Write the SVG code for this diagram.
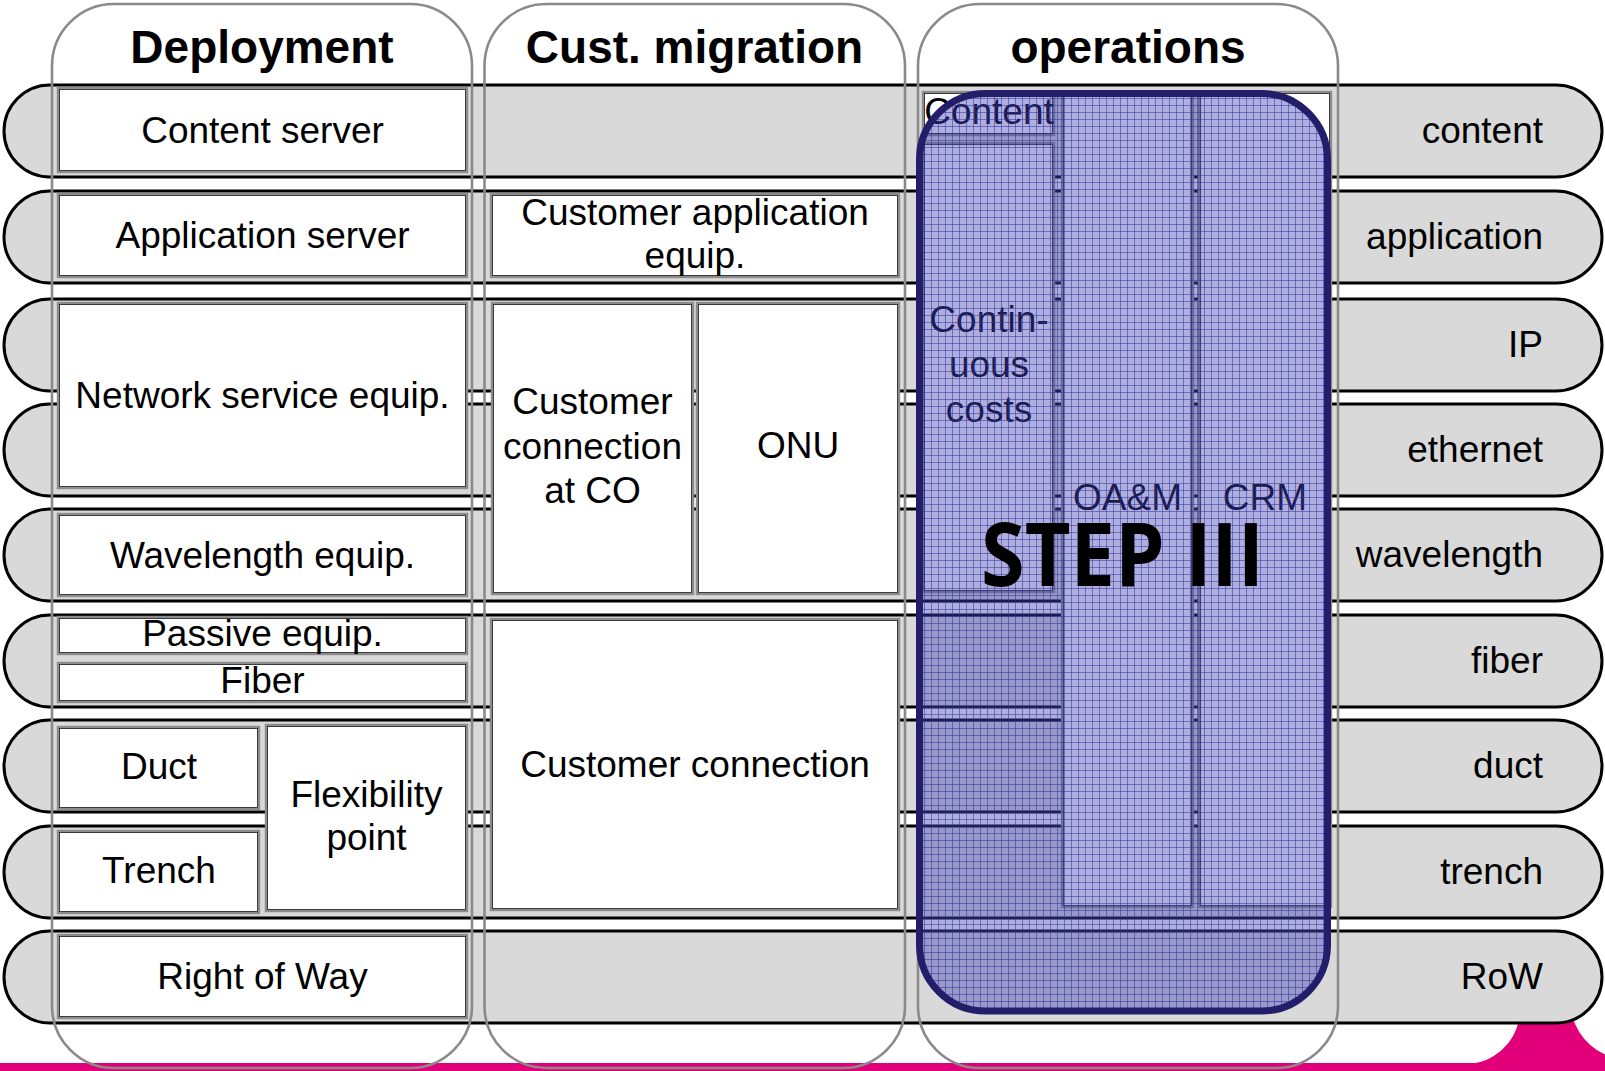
<svg xmlns="http://www.w3.org/2000/svg" width="1605" height="1071" viewBox="0 0 1605 1071">
<style>
.band{fill:#d9d9d9;stroke:#000;stroke-width:3}
.col{fill:none;stroke:#8a8a8a;stroke-width:2.6}
.bo{fill:#fff;stroke:#8c8c8c;stroke-width:2.4}
.bi{fill:none;stroke:#2a2a2a;stroke-width:0.9}
.t{font-family:"Liberation Sans",Arial,sans-serif;font-size:37px;fill:#000;text-anchor:middle}
.lbl{font-family:"Liberation Sans",Arial,sans-serif;font-size:37px;fill:#000;text-anchor:end}
.h{font-family:"Liberation Sans",Arial,sans-serif;font-size:46px;font-weight:bold;fill:#000;text-anchor:middle}
.step{font-family:"Open Sans","Liberation Sans",sans-serif;font-size:88px;font-weight:bold;fill:#000}
</style>
<defs>
<pattern id="grid" patternUnits="userSpaceOnUse" width="7" height="7">
<rect width="7" height="7" fill="#4040b2" fill-opacity="0.42"/>
<path d="M0,0.5H7M0.5,0V7" stroke="#2c2c9c" stroke-opacity="0.5" stroke-width="1" fill="none"/>
</pattern>
</defs>
<rect width="1605" height="1071" fill="#fff"/>
<path id="accent" d="M0,1063 L1475.4,1063 A55,55 0 0 0 1520,1008 L1520,1000 L1570,1000 A60,60 0 0 0 1605,1054.5 L1605,1071 L0,1071 Z" fill="#e2007a"/>
<g id="bands">
<g id="band-content"><rect class="band" x="4" y="85" width="1598" height="92" rx="46"/><text class="lbl" x="1543" y="143">content</text></g>
<g id="band-application"><rect class="band" x="4" y="191" width="1598" height="92" rx="46"/><text class="lbl" x="1543" y="249">application</text></g>
<g id="band-ip"><rect class="band" x="4" y="299" width="1598" height="92" rx="46"/><text class="lbl" x="1543" y="357">IP</text></g>
<g id="band-ethernet"><rect class="band" x="4" y="404" width="1598" height="92" rx="46"/><text class="lbl" x="1543" y="462">ethernet</text></g>
<g id="band-wavelength"><rect class="band" x="4" y="509" width="1598" height="92" rx="46"/><text class="lbl" x="1543" y="567">wavelength</text></g>
<g id="band-fiber"><rect class="band" x="4" y="615" width="1598" height="92" rx="46"/><text class="lbl" x="1543" y="673">fiber</text></g>
<g id="band-duct"><rect class="band" x="4" y="720" width="1598" height="92" rx="46"/><text class="lbl" x="1543" y="778">duct</text></g>
<g id="band-trench"><rect class="band" x="4" y="826" width="1598" height="92" rx="46"/><text class="lbl" x="1543" y="884">trench</text></g>
<g id="band-row"><rect class="band" x="4" y="931" width="1598" height="92" rx="46"/><text class="lbl" x="1543" y="989">RoW</text></g>
</g>
<g id="deployment-boxes">
<g id="content-server"><rect class="bo" x="58" y="88" width="409" height="84"/><rect class="bi" x="59.5" y="89.5" width="406" height="81"/><text class="t" x="262.5" y="143">Content server</text></g>
<g id="application-server"><rect class="bo" x="58" y="194" width="409" height="83"/><rect class="bi" x="59.5" y="195.5" width="406" height="80"/><text class="t" x="262.5" y="248">Application server</text></g>
<g id="network-service-equip"><rect class="bo" x="58" y="303" width="409" height="185"/><rect class="bi" x="59.5" y="304.5" width="406" height="182"/><text class="t" x="262.5" y="408">Network service equip.</text></g>
<g id="wavelength-equip"><rect class="bo" x="58" y="514" width="409" height="82"/><rect class="bi" x="59.5" y="515.5" width="406" height="79"/><text class="t" x="262.5" y="568">Wavelength equip.</text></g>
<g id="passive-equip"><rect class="bo" x="58" y="617" width="409" height="37"/><rect class="bi" x="59.5" y="618.5" width="406" height="34"/><text class="t" x="262.5" y="646">Passive equip.</text></g>
<g id="fiber"><rect class="bo" x="58" y="663" width="409" height="39"/><rect class="bi" x="59.5" y="664.5" width="406" height="36"/><text class="t" x="262.5" y="693">Fiber</text></g>
<g id="duct"><rect class="bo" x="58" y="727" width="201" height="82"/><rect class="bi" x="59.5" y="728.5" width="198" height="79"/><text class="t" x="159" y="779">Duct</text></g>
<g id="trench"><rect class="bo" x="58" y="831" width="201" height="82"/><rect class="bi" x="59.5" y="832.5" width="198" height="79"/><text class="t" x="159" y="883">Trench</text></g>
<g id="flexibility-point"><rect class="bo" x="266" y="725" width="201" height="186"/><rect class="bi" x="267.5" y="726.5" width="198" height="183"/><text class="t" x="366.5" y="807">Flexibility</text><text class="t" x="366.5" y="850">point</text></g>
<g id="right-of-way"><rect class="bo" x="58" y="935" width="409" height="83"/><rect class="bi" x="59.5" y="936.5" width="406" height="80"/><text class="t" x="262.5" y="989">Right of Way</text></g>
</g>
<g id="migration-boxes">
<g id="customer-application-equip"><rect class="bo" x="491" y="194" width="408" height="83"/><rect class="bi" x="492.5" y="195.5" width="405" height="80"/><text class="t" x="695" y="225">Customer application</text><text class="t" x="695" y="268">equip.</text></g>
<g id="customer-connection-co"><rect class="bo" x="492" y="303" width="201" height="291"/><rect class="bi" x="493.5" y="304.5" width="198" height="288"/><text class="t" x="592.5" y="414">Customer</text><text class="t" x="592.5" y="459">connection</text><text class="t" x="592.5" y="503">at CO</text></g>
<g id="onu"><rect class="bo" x="697" y="303" width="202" height="291"/><rect class="bi" x="698.5" y="304.5" width="199" height="288"/><text class="t" x="798" y="458">ONU</text></g>
<g id="customer-connection"><rect class="bo" x="491" y="619" width="408" height="291"/><rect class="bi" x="492.5" y="620.5" width="405" height="288"/><text class="t" x="695" y="777">Customer connection</text></g>
</g>
<g id="operations-boxes">
<g id="op-content"><rect class="bo" x="923" y="92" width="131" height="43"/><rect class="bi" x="924.5" y="93.5" width="128" height="40"/><text class="t" x="989" y="124">Content</text></g>
<g id="continuous-costs"><rect class="bo" x="923" y="143" width="131" height="449"/><rect class="bi" x="924.5" y="144.5" width="128" height="446"/><text class="t" x="989" y="332">Contin-</text><text class="t" x="989" y="377">uous</text><text class="t" x="989" y="422">costs</text></g>
<g id="oam"><rect class="bo" x="1062" y="92" width="131" height="815"/><rect class="bi" x="1063.5" y="93.5" width="128" height="812"/><text class="t" x="1127.5" y="510">OA&amp;M</text></g>
<g id="crm"><rect class="bo" x="1199" y="92" width="132" height="815"/><rect class="bi" x="1200.5" y="93.5" width="129" height="812"/><text class="t" x="1265" y="510">CRM</text></g>
</g>
<g id="columns">
<g id="col-deployment"><rect class="col" x="52" y="4" width="420" height="1064" rx="62"/><text class="h" x="262" y="63">Deployment</text></g>
<g id="col-migration"><rect class="col" x="484.5" y="4" width="420.5" height="1064" rx="62"/><text class="h" x="694.5" y="63">Cust. migration</text></g>
<g id="col-operations"><rect class="col" x="918" y="4" width="420" height="1064" rx="62"/><text class="h" x="1128" y="63">operations</text></g>
</g>
<g id="step-iii">
<rect x="919.5" y="93.5" width="408" height="917.5" rx="66" fill="url(#grid)" stroke="#221e6a" stroke-width="7"/>
<text class="step" x="981" y="586" textLength="283" lengthAdjust="spacingAndGlyphs">STEP III</text>
</g>
</svg>
